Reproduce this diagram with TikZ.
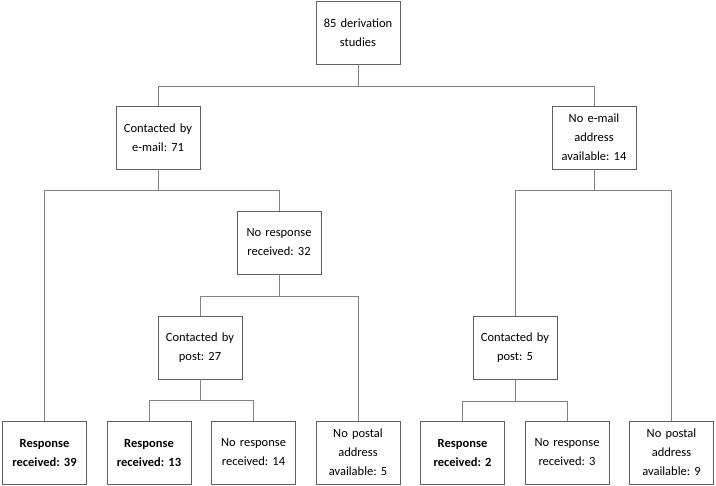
\documentclass[tikz,border=0pt]{standalone}
\usepackage{fontspec}
\setmainfont{Carlito}
\usepackage{xcolor}
\usepackage{tikz}
\usetikzlibrary{positioning}
\frenchspacing
\definecolor{fcedge}{RGB}{96,96,96}
\definecolor{fcline}{RGB}{130,130,130}
\tikzset{
  fcbox/.style={
    draw=fcedge, line width=0.8pt, align=center,
    text width=76pt, inner sep=4pt, outer sep=0pt,
    minimum height=63pt, font=\fontsize{12.5}{19}\selectfont
  },
  hit/.style={fcbox, font=\fontsize{12.5}{19}\selectfont\bfseries},
  link/.style={draw=fcline, line width=0.9pt}
}
\begin{document}
\begin{tikzpicture}
  \useasboundingbox (0,0) rectangle (716pt,-486pt);
  \node[fcbox] (root) at (358pt,-32.5pt) {85 derivation\\studies};
  \node[fcbox, below=42pt of root, xshift=-200pt] (email) {Contacted by\\e-mail: 71};
  \node[fcbox, below=42pt of root, xshift=236pt] (noemail) {No e-mail\\address\\available: 14};
  \node[fcbox, below=42pt of email, xshift=121pt] (noresp) {No response\\received: 32};
  \node[fcbox, below=42pt of noresp, xshift=-79pt] (post) {Contacted by\\post: 27};
  \node[fcbox, below=147pt of noemail, xshift=-79pt] (postb) {Contacted by\\post: 5};
  % bottom row
  \node[hit, below=252pt of email, xshift=-113.5pt] (resp) {Response\\received: 39};
  \node[hit, right=20.5pt of resp] (respa) {Response\\received: 13};
  \node[fcbox, right=20.5pt of respa] (norespa) {No response\\received: 14};
  \node[fcbox, right=20.5pt of norespa] (noposta) {No postal\\address\\available: 5};
  \node[hit, right=20.5pt of noposta] (respb) {Response\\received: 2};
  \node[fcbox, right=20.5pt of respb] (norespb) {No response\\received: 3};
  \node[fcbox, right=20.5pt of norespb] (nopostb) {No postal\\address\\available: 9};
  \draw[link] (root.south) -- ++(0,-22pt) -| (email.north);
  \draw[link] (root.south) -- ++(0,-22pt) -| (noemail.north);
  \draw[link] (email.south) -- ++(0,-21pt) -| (resp.north);
  \draw[link] (email.south) -- ++(0,-21pt) -| (noresp.north);
  \draw[link] (noresp.south) -- ++(0,-22pt) -| (post.north);
  \draw[link] (noresp.south) -- ++(0,-22pt) -| (noposta.north);
  \draw[link] (post.south) -- ++(0,-21pt) -| (respa.north);
  \draw[link] (post.south) -- ++(0,-21pt) -| (norespa.north);
  \draw[link] (noemail.south) -- ++(0,-21pt) -| (postb.north);
  \draw[link] (noemail.south) -- ++(0,-21pt) -| (nopostb.north);
  \draw[link] (postb.south) -- ++(0,-22pt) -| (respb.north);
  \draw[link] (postb.south) -- ++(0,-22pt) -| (norespb.north);
\end{tikzpicture}
\end{document}
